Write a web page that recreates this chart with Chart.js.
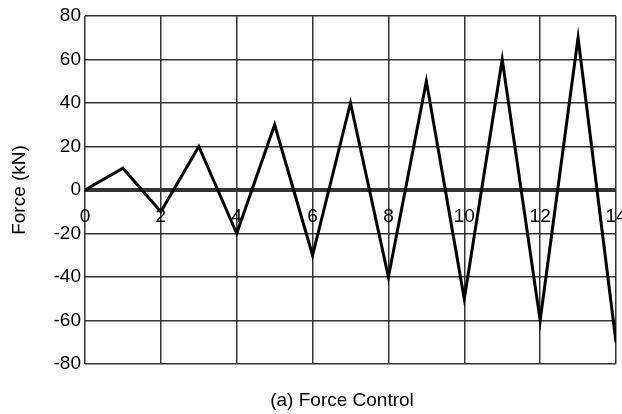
<!DOCTYPE html>
<html>
<head>
<meta charset="utf-8">
<script src="https://cdn.jsdelivr.net/npm/chart.js@4/dist/chart.umd.min.js"></script>
<style>
  html, body { margin: 0; padding: 0; background: #ffffff; }
  #wrap { width: 622px; height: 414px; }
</style>
</head>
<body>
<div id="wrap"><canvas id="c" width="622" height="414"></canvas></div>
<script>
// Loading protocol: cycle step and applied force
const steps = [0, 1, 2, 3, 4, 5, 6, 7, 8, 9, 10, 11, 12, 13, 14];
const forceKN = [0, 10, -10, 20, -20, 30, -30, 40, -40, 50, -50, 60, -60, 70, -70];
const yAxisTitle = 'Force (kN)';
const caption = '(a) Force Control';

const FONT = 'Liberation Sans, Arial, sans-serif';

// Draws the x tick labels just under the zero line, and the caption below the plot
const zeroAxisLabels = {
  id: 'zeroAxisLabels',
  afterDatasetsDraw(chart) {
    const { ctx, scales: { x, y } } = chart;
    const y0 = y.getPixelForValue(0);
    ctx.save();
    ctx.font = '19px ' + FONT;
    ctx.fillStyle = '#000';
    ctx.textAlign = 'center';
    ctx.textBaseline = 'alphabetic';
    x.ticks.forEach(t => {
      ctx.fillText(String(t.value), x.getPixelForValue(t.value), y0 + 32);
    });
    ctx.restore();
  },
  afterDraw(chart) {
    const { ctx } = chart;
    ctx.save();
    ctx.font = '19px ' + FONT;
    ctx.fillStyle = '#000';
    ctx.textAlign = 'center';
    ctx.textBaseline = 'middle';
    ctx.fillText(caption, 342, 401);
    ctx.restore();
  }
};

new Chart(document.getElementById('c'), {
  type: 'line',
  data: {
    datasets: [{
      data: steps.map((s, i) => ({ x: s, y: forceKN[i] })),
      borderColor: '#000',
      borderWidth: 3,
      pointRadius: 0,
      tension: 0,
      fill: false
    }]
  },
  options: {
    responsive: false,
    animation: false,
    devicePixelRatio: 1,
    layout: { padding: { top: 16, right: 6, bottom: 0, left: 0 } },
    plugins: { legend: { display: false }, tooltip: { enabled: false } },
    scales: {
      x: {
        type: 'linear',
        min: 0, max: 14,
        ticks: { stepSize: 2, display: false },
        grid: { color: '#333', lineWidth: 1.5, drawTicks: false },
        border: { display: false },
        afterFit(s) { s.height = 50; }
      },
      y: {
        min: -80, max: 80,
        ticks: { stepSize: 20, color: '#000', font: { size: 19, family: FONT }, padding: 4 },
        grid: {
          color: '#333',
          lineWidth: ctx => (ctx.tick && ctx.tick.value === 0 ? 4 : 1.5),
          drawTicks: false
        },
        border: { display: false },
        title: {
          display: true, text: yAxisTitle, color: '#000',
          font: { size: 19, family: FONT }, padding: { top: 8, bottom: 0 }
        },
        afterFit(s) { s.width = 85; }
      }
    }
  },
  plugins: [zeroAxisLabels]
});
</script>
</body>
</html>
